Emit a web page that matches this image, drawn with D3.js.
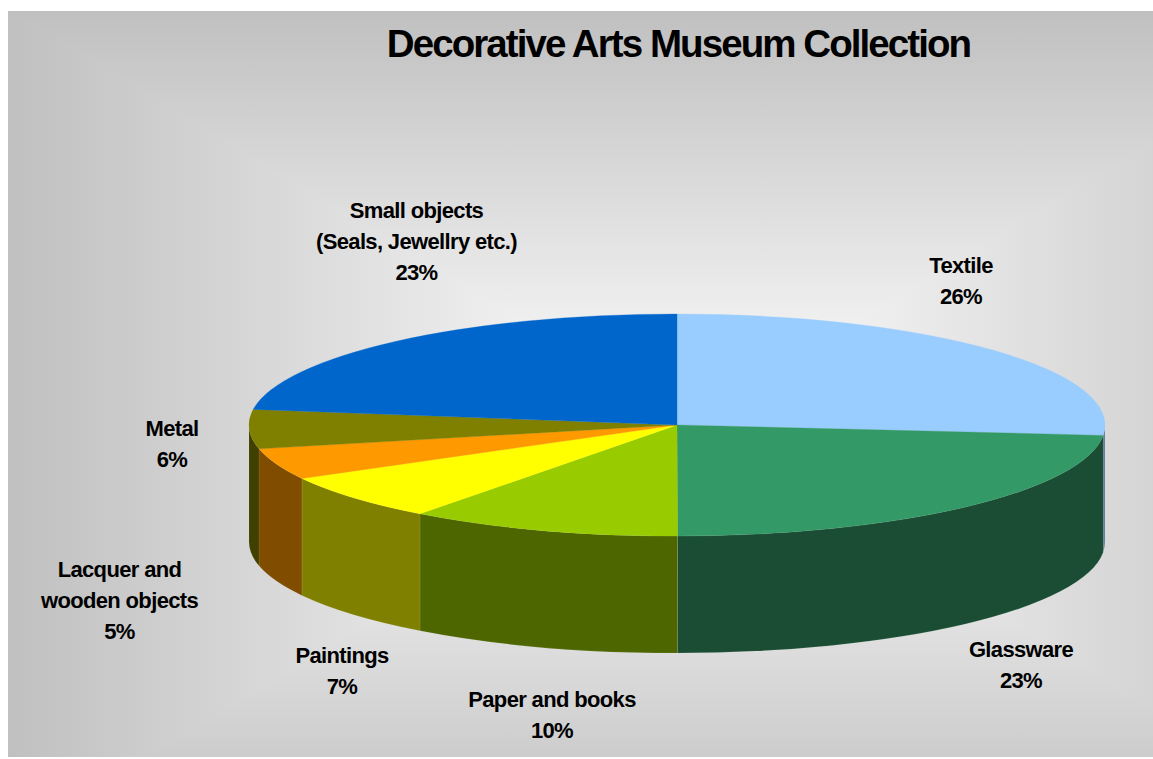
<!DOCTYPE html>
<html>
<head>
<meta charset="utf-8">
<script src="https://cdn.jsdelivr.net/npm/d3@7"></script>
<style>
  html, body { margin: 0; padding: 0; background: #fff; }
  svg { display: block; }
  text { font-family: "Liberation Sans", Arial, sans-serif; font-weight: 700; fill: #000; text-anchor: middle; }
</style>
</head>
<body>
<svg id="chart" width="1153" height="759"></svg>
<script>
// Collection shares in percent; labels show the rounded figure.
const categories = ["Textile", "Glassware", "Paper and books", "Paintings", "Lacquer and wooden objects", "Metal", "Small objects (Seals, Jewellry etc.)"];
const shares = [26.49, 23.49, 10.27, 6.75, 4.55, 5.7, 22.75];
const topColors = ["#99ccff", "#339966", "#99cc00", "#ffff00", "#ff9900", "#808000", "#0066cc"];
const sideColors = ["#5c7a99", "#1a4d33", "#4d6600", "#808000", "#804d00", "#404000", "#003366"];
const labelLines = [["Textile"], ["Glassware"], ["Paper and books"], ["Paintings"], ["Lacquer and", "wooden objects"], ["Metal"], ["Small objects", "(Seals, Jewellry etc.)"]];
const labelAnchors = [[961, 273], [1021, 657], [552, 707], [342, 663], [119.5, 577], [172, 436], [416.5, 218]];
const titleText = "Decorative Arts Museum Collection";

const width = 1153, height = 759;
const panel = { x0: 8, y0: 11, x1: 1153, y1: 757 };
const fade = { cx: 690, cy: 425, halfW: 682, halfH: 414 };
const cx = 677, cy = 425, rx = 428, ry = 111, depth = 117;
const lineGap = 31;

const svg = d3.select("#chart");
const defs = svg.append("defs");
defs.append("clipPath").attr("id", "panel-clip").append("rect")
  .attr("x", panel.x0).attr("y", panel.y0)
  .attr("width", panel.x1 - panel.x0).attr("height", panel.y1 - panel.y0);

// Rectangular "path" gradient: each side of the fade box brightens towards its centre.
const box = { x0: fade.cx - fade.halfW, x1: fade.cx + fade.halfW, y0: fade.cy - fade.halfH, y1: fade.cy + fade.halfH };
const corners = [[box.x0, box.y0], [box.x1, box.y0], [box.x1, box.y1], [box.x0, box.y1]];
const edgeStops = [[fade.cx, box.y0], [box.x1, fade.cy], [fade.cx, box.y1], [box.x0, fade.cy]];
const backdrop = svg.append("g").attr("clip-path", "url(#panel-clip)");
corners.forEach((c, i) => {
  const id = "panel-fade-" + i;
  const g = defs.append("linearGradient").attr("id", id).attr("gradientUnits", "userSpaceOnUse")
    .attr("x1", edgeStops[i][0]).attr("y1", edgeStops[i][1]).attr("x2", fade.cx).attr("y2", fade.cy);
  g.append("stop").attr("offset", 0).attr("stop-color", "#c0c0c0");
  g.append("stop").attr("offset", 1).attr("stop-color", "#ffffff");
  const n = corners[(i + 1) % 4];
  backdrop.append("path")
    .attr("d", `M${c}L${n}L${fade.cx},${fade.cy}Z`)
    .attr("fill", `url(#${id})`)
    .attr("shape-rendering", "crispEdges");
});

svg.append("text").attr("x", 678.5).attr("y", 57)
  .attr("font-size", 38.5).attr("letter-spacing", -1.92).text(titleText);

// Pie layout clockwise from twelve o'clock, in the data's own order.
const slices = d3.pie().sort(null).value(d => d)(shares);
const px = a => cx + rx * Math.sin(a);
const py = a => cy - ry * Math.cos(a);

// Rim: only the part of each slice facing the viewer (quarter past to quarter to).
const frontStart = Math.PI / 2, frontEnd = 3 * Math.PI / 2;
const rim = svg.append("g");
slices.forEach((s, i) => {
  const a0 = Math.max(s.startAngle, frontStart), a1 = Math.min(s.endAngle, frontEnd);
  if (a1 <= a0) return;
  rim.append("path")
    .attr("d", `M${px(a0)},${py(a0)}A${rx},${ry} 0 0 1 ${px(a1)},${py(a1)}` +
               `L${px(a1)},${py(a1) + depth}A${rx},${ry} 0 0 0 ${px(a0)},${py(a0) + depth}Z`)
    .attr("fill", sideColors[i])
    .attr("stroke", "#ffffff").attr("stroke-opacity", 0.12).attr("stroke-width", 0.7);
});

// Top face: a d3 arc squashed vertically into an ellipse.
const arc = d3.arc().innerRadius(0).outerRadius(rx);
svg.append("g")
  .attr("transform", `translate(${cx},${cy}) scale(1,${ry / rx})`)
  .selectAll("path").data(slices).join("path")
  .attr("d", arc)
  .attr("fill", (d, i) => topColors[i])
  .attr("stroke", (d, i) => topColors[i])
  .attr("stroke-width", 0.5);

// Data labels: category lines followed by the rounded share.
labelLines.forEach((lines, i) => {
  const rows = lines.concat(Math.round(shares[i]) + "%");
  const t = svg.append("text").attr("font-size", 22).attr("letter-spacing", -0.65);
  rows.forEach((r, k) => {
    t.append("tspan").attr("x", labelAnchors[i][0]).attr("y", labelAnchors[i][1] + k * lineGap).text(r);
  });
});
</script>
</body>
</html>
